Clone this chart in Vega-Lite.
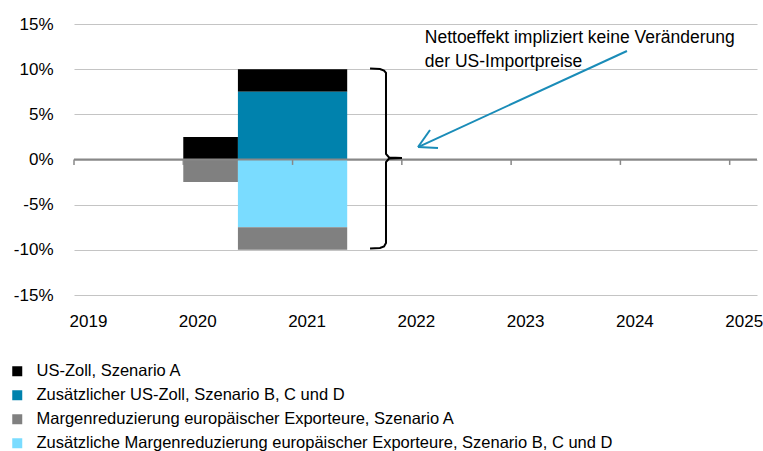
{
  "$schema": "https://vega.github.io/schema/vega-lite/v6.json",
  "width": 683,
  "height": 271,
  "autosize": "none",
  "padding": {"left": 74, "top": 24, "right": 6, "bottom": 156},
  "config": {
    "view": {"stroke": null},
    "font": "Liberation Sans",
    "axis": {"labelFont": "Liberation Sans", "labelColor": "#000000"},
    "legend": {"labelFont": "Liberation Sans"},
    "text": {"font": "Liberation Sans"}
  },
  "datasets": {
    "bars": [
      {"year_start": 2020, "year_end": 2020.5, "low": 0, "high": 2.5, "series": "US-Zoll, Szenario A"},
      {"year_start": 2020, "year_end": 2020.5, "low": -2.5, "high": 0, "series": "Margenreduzierung europäischer Exporteure, Szenario A"},
      {"year_start": 2020.5, "year_end": 2021.5, "low": 7.5, "high": 10, "series": "US-Zoll, Szenario A"},
      {"year_start": 2020.5, "year_end": 2021.5, "low": 0, "high": 7.5, "series": "Zusätzlicher US-Zoll, Szenario B, C und D"},
      {"year_start": 2020.5, "year_end": 2021.5, "low": -7.5, "high": 0, "series": "Zusätzliche Margenreduzierung europäischer Exporteure, Szenario B, C und D"},
      {"year_start": 2020.5, "year_end": 2021.5, "low": -10, "high": -7.5, "series": "Margenreduzierung europäischer Exporteure, Szenario A"}
    ],
    "years": [
      {"year": 2019}, {"year": 2020}, {"year": 2021}, {"year": 2022}, {"year": 2023}, {"year": 2024}, {"year": 2025}
    ],
    "brace": [
      {"i": 1, "x": 2021.709, "y": 10.07},
      {"i": 2, "x": 2021.8, "y": 10.02},
      {"i": 3, "x": 2021.837, "y": 9.85},
      {"i": 4, "x": 2021.855, "y": 9.58},
      {"i": 5, "x": 2021.855, "y": 0.61},
      {"i": 6, "x": 2021.883, "y": 0.22},
      {"i": 7, "x": 2022.001, "y": 0.17},
      {"i": 8, "x": 2021.883, "y": 0.11},
      {"i": 9, "x": 2021.855, "y": -0.28},
      {"i": 10, "x": 2021.855, "y": -9.24},
      {"i": 11, "x": 2021.837, "y": -9.63},
      {"i": 12, "x": 2021.8, "y": -9.8},
      {"i": 13, "x": 2021.709, "y": -9.85}
    ],
    "arrow": [
      {"seg": "shaft", "i": 1, "x": 2024.06, "y": 12.01},
      {"seg": "shaft", "i": 2, "x": 2022.148, "y": 1.38},
      {"seg": "arm1", "i": 1, "x": 2022.148, "y": 1.38},
      {"seg": "arm1", "i": 2, "x": 2022.258, "y": 3.27},
      {"seg": "arm2", "i": 1, "x": 2022.148, "y": 1.38},
      {"seg": "arm2", "i": 2, "x": 2022.331, "y": 1.27}
    ],
    "note": [
      {"x": 2022.21, "y": 12.93, "label": ["Nettoeffekt impliziert keine Veränderung", "der US-Importpreise"]}
    ]
  },
  "layer": [
    {
      "data": {"name": "bars"},
      "mark": {"type": "bar"},
      "encoding": {
        "x": {
          "field": "year_start", "type": "quantitative",
          "scale": {"domain": [2019, 2025.25], "nice": false, "zero": false},
          "axis": {
            "title": null, "values": [2019, 2020, 2021, 2022, 2023, 2024, 2025], "format": "d",
            "grid": false, "ticks": false, "domain": false, "labelOffset": 14,
            "labelPadding": 18, "labelFontSize": 17, "labelFlush": false
          }
        },
        "x2": {"field": "year_end"},
        "y": {
          "field": "low", "type": "quantitative",
          "scale": {"domain": [-15, 15], "nice": false},
          "axis": {
            "title": null, "values": [-15, -10, -5, 0, 5, 10, 15], "labelExpr": "datum.value + '%'",
            "grid": true, "gridColor": "#c4c4c4", "gridWidth": 1.2, "ticks": false, "domain": false,
            "labelPadding": 21, "labelFontSize": 17
          }
        },
        "y2": {"field": "high"},
        "color": {
          "field": "series", "type": "nominal",
          "scale": {
            "domain": [
              "US-Zoll, Szenario A",
              "Zusätzlicher US-Zoll, Szenario B, C und D",
              "Margenreduzierung europäischer Exporteure, Szenario A",
              "Zusätzliche Margenreduzierung europäischer Exporteure, Szenario B, C und D"
            ],
            "range": ["#000000", "#0082AD", "#808080", "#7ADCFF"]
          },
          "legend": {
            "title": null, "orient": "none", "legendX": -65, "legendY": 339, "direction": "vertical",
            "symbolType": "square", "symbolSize": 100, "symbolStrokeWidth": 0,
            "labelFontSize": 16.5, "labelOffset": 11, "rowPadding": 7, "padding": 0, "labelLimit": 800
          }
        }
      }
    },
    {
      "data": {"values": [{"v": 0}]},
      "mark": {"type": "rule", "color": "#888888", "strokeWidth": 2},
      "encoding": {"y": {"field": "v", "type": "quantitative"}}
    },
    {
      "data": {"name": "years"},
      "mark": {"type": "rule", "color": "#888888", "strokeWidth": 1.5},
      "encoding": {
        "x": {"field": "year", "type": "quantitative"},
        "y": {"datum": 0},
        "y2": {"datum": -0.6}
      }
    },
    {
      "data": {"name": "brace"},
      "mark": {"type": "line", "color": "#000000", "strokeWidth": 2},
      "encoding": {
        "x": {"field": "x", "type": "quantitative"},
        "y": {"field": "y", "type": "quantitative"},
        "order": {"field": "i", "type": "quantitative"}
      }
    },
    {
      "data": {"name": "arrow"},
      "mark": {"type": "line", "color": "#1A8CB8", "strokeWidth": 2},
      "encoding": {
        "x": {"field": "x", "type": "quantitative"},
        "y": {"field": "y", "type": "quantitative"},
        "detail": {"field": "seg"},
        "order": {"field": "i", "type": "quantitative"}
      }
    },
    {
      "data": {"name": "note"},
      "mark": {"type": "text", "align": "left", "baseline": "alphabetic", "fontSize": 17.5, "lineHeight": 24, "color": "#000000"},
      "encoding": {
        "x": {"field": "x", "type": "quantitative"},
        "y": {"field": "y", "type": "quantitative"},
        "text": {"field": "label"}
      }
    }
  ]
}
